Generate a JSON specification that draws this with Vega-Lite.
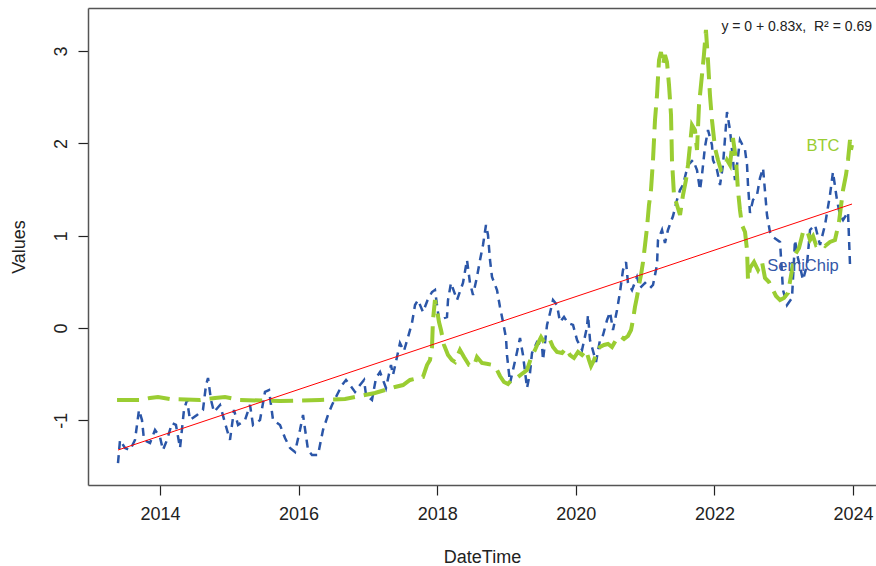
{
  "$schema": "https://vega.github.io/schema/vega-lite/v6.json",
  "autosize": {"type": "none"},
  "padding": {"left": 88, "top": 8, "right": 0, "bottom": 81},
  "width": 788,
  "height": 477,
  "background": "white",
  "config": {"view": {"stroke": null}, "font": "Liberation Sans"},
  "datasets": {
    "semi": [
      {"t": 2013.394, "v": -1.463}, {"t": 2013.423, "v": -1.213}, {"t": 2013.495, "v": -1.3}, {"t": 2013.567, "v": -1.322},
      {"t": 2013.639, "v": -1.213}, {"t": 2013.697, "v": -0.888}, {"t": 2013.74, "v": -0.997}, {"t": 2013.769, "v": -1.213},
      {"t": 2013.856, "v": -1.246}, {"t": 2013.928, "v": -1.105}, {"t": 2014.0, "v": -1.181}, {"t": 2014.043, "v": -1.322},
      {"t": 2014.101, "v": -1.213}, {"t": 2014.173, "v": -1.029}, {"t": 2014.23, "v": -1.05}, {"t": 2014.289, "v": -1.3},
      {"t": 2014.346, "v": -0.888}, {"t": 2014.39, "v": -0.78}, {"t": 2014.433, "v": -0.997}, {"t": 2014.534, "v": -0.943},
      {"t": 2014.62, "v": -0.888}, {"t": 2014.664, "v": -0.618}, {"t": 2014.693, "v": -0.542}, {"t": 2014.736, "v": -0.78},
      {"t": 2014.779, "v": -0.91}, {"t": 2014.866, "v": -0.834}, {"t": 2014.967, "v": -1.105}, {"t": 2015.01, "v": -1.213},
      {"t": 2015.068, "v": -0.888}, {"t": 2015.126, "v": -1.051}, {"t": 2015.227, "v": -0.997}, {"t": 2015.299, "v": -0.834},
      {"t": 2015.342, "v": -1.051}, {"t": 2015.443, "v": -0.997}, {"t": 2015.515, "v": -0.693}, {"t": 2015.573, "v": -0.672},
      {"t": 2015.631, "v": -0.997}, {"t": 2015.732, "v": -1.051}, {"t": 2015.804, "v": -1.192}, {"t": 2015.876, "v": -1.3},
      {"t": 2015.948, "v": -1.343}, {"t": 2016.02, "v": -1.105}, {"t": 2016.064, "v": -0.943}, {"t": 2016.136, "v": -1.322},
      {"t": 2016.193, "v": -1.376}, {"t": 2016.28, "v": -1.376}, {"t": 2016.352, "v": -1.105}, {"t": 2016.424, "v": -0.943},
      {"t": 2016.482, "v": -0.834}, {"t": 2016.554, "v": -0.726}, {"t": 2016.626, "v": -0.618}, {"t": 2016.684, "v": -0.563},
      {"t": 2016.742, "v": -0.618}, {"t": 2016.814, "v": -0.693}, {"t": 2016.886, "v": -0.618}, {"t": 2016.944, "v": -0.563},
      {"t": 2016.973, "v": -0.726}, {"t": 2017.059, "v": -0.78}, {"t": 2017.117, "v": -0.542}, {"t": 2017.175, "v": -0.477},
      {"t": 2017.261, "v": -0.65}, {"t": 2017.333, "v": -0.401}, {"t": 2017.362, "v": -0.509}, {"t": 2017.42, "v": -0.314},
      {"t": 2017.463, "v": -0.163}, {"t": 2017.52, "v": -0.25}, {"t": 2017.579, "v": -0.098}, {"t": 2017.636, "v": 0.054}, {"t": 2017.68, "v": 0.249},
      {"t": 2017.723, "v": 0.303}, {"t": 2017.795, "v": 0.173}, {"t": 2017.86, "v": 0.3}, {"t": 2017.925, "v": 0.39}, {"t": 2017.968, "v": 0.412},
      {"t": 2018.026, "v": 0.087}, {"t": 2018.141, "v": 0.119}, {"t": 2018.156, "v": 0.303}, {"t": 2018.199, "v": 0.488},
      {"t": 2018.286, "v": 0.303}, {"t": 2018.372, "v": 0.488}, {"t": 2018.43, "v": 0.737}, {"t": 2018.473, "v": 0.488},
      {"t": 2018.517, "v": 0.358}, {"t": 2018.574, "v": 0.553}, {"t": 2018.618, "v": 0.737}, {"t": 2018.661, "v": 0.899},
      {"t": 2018.704, "v": 1.116}, {"t": 2018.733, "v": 1.008}, {"t": 2018.762, "v": 0.737}, {"t": 2018.791, "v": 0.553},
      {"t": 2018.863, "v": 0.412}, {"t": 2018.906, "v": 0.228}, {"t": 2018.95, "v": 0.065}, {"t": 2018.993, "v": -0.108},
      {"t": 2019.007, "v": -0.293}, {"t": 2019.051, "v": -0.596}, {"t": 2019.094, "v": -0.455}, {"t": 2019.152, "v": -0.26},
      {"t": 2019.195, "v": -0.108}, {"t": 2019.238, "v": -0.293}, {"t": 2019.296, "v": -0.65}, {"t": 2019.339, "v": -0.488},
      {"t": 2019.368, "v": -0.271}, {"t": 2019.44, "v": -0.152}, {"t": 2019.512, "v": -0.184}, {"t": 2019.527, "v": -0.347},
      {"t": 2019.585, "v": 0.033}, {"t": 2019.628, "v": 0.163}, {"t": 2019.671, "v": 0.303}, {"t": 2019.729, "v": 0.249},
      {"t": 2019.772, "v": 0.065}, {"t": 2019.83, "v": 0.12}, {"t": 2019.887, "v": 0.054}, {"t": 2019.96, "v": 0.033}, {"t": 2020.018, "v": -0.13},
      {"t": 2020.09, "v": -0.238}, {"t": 2020.162, "v": 0.011}, {"t": 2020.176, "v": 0.141}, {"t": 2020.205, "v": -0.13},
      {"t": 2020.292, "v": -0.368}, {"t": 2020.349, "v": -0.13}, {"t": 2020.393, "v": -0.076}, {"t": 2020.451, "v": 0.087},
      {"t": 2020.494, "v": 0.173}, {"t": 2020.537, "v": -0.022}, {"t": 2020.595, "v": 0.195}, {"t": 2020.638, "v": 0.39},
      {"t": 2020.681, "v": 0.628}, {"t": 2020.725, "v": 0.715}, {"t": 2020.753, "v": 0.488}, {"t": 2020.811, "v": 0.412},
      {"t": 2020.883, "v": 0.553}, {"t": 2020.927, "v": 0.433}, {"t": 2020.999, "v": 0.488}, {"t": 2021.071, "v": 0.433},
      {"t": 2021.114, "v": 0.466}, {"t": 2021.172, "v": 0.683}, {"t": 2021.186, "v": 0.953}, {"t": 2021.244, "v": 1.062},
      {"t": 2021.287, "v": 0.921}, {"t": 2021.33, "v": 1.062}, {"t": 2021.403, "v": 1.213}, {"t": 2021.46, "v": 1.387},
      {"t": 2021.504, "v": 1.495}, {"t": 2021.547, "v": 1.549}, {"t": 2021.619, "v": 1.766}, {"t": 2021.691, "v": 1.82},
      {"t": 2021.749, "v": 1.712}, {"t": 2021.792, "v": 1.495}, {"t": 2021.821, "v": 1.658}, {"t": 2021.864, "v": 1.961},
      {"t": 2021.908, "v": 2.145}, {"t": 2021.965, "v": 1.983}, {"t": 2021.98, "v": 1.82}, {"t": 2022.038, "v": 1.712},
      {"t": 2022.081, "v": 1.549}, {"t": 2022.124, "v": 1.766}, {"t": 2022.182, "v": 2.34}, {"t": 2022.225, "v": 2.145},
      {"t": 2022.254, "v": 1.929}, {"t": 2022.297, "v": 1.603}, {"t": 2022.326, "v": 1.766}, {"t": 2022.369, "v": 2.037},
      {"t": 2022.442, "v": 1.929}, {"t": 2022.471, "v": 1.766}, {"t": 2022.485, "v": 1.549}, {"t": 2022.514, "v": 1.246},
      {"t": 2022.557, "v": 1.387}, {"t": 2022.615, "v": 1.441}, {"t": 2022.658, "v": 1.625}, {"t": 2022.702, "v": 1.733},
      {"t": 2022.759, "v": 1.224}, {"t": 2022.802, "v": 1.04}, {"t": 2022.846, "v": 0.986}, {"t": 2022.947, "v": 0.932},
      {"t": 2022.99, "v": 0.412}, {"t": 2023.048, "v": 0.249}, {"t": 2023.12, "v": 0.325}, {"t": 2023.163, "v": 0.953},
      {"t": 2023.206, "v": 0.758}, {"t": 2023.279, "v": 0.52}, {"t": 2023.336, "v": 0.683}, {"t": 2023.38, "v": 1.062},
      {"t": 2023.452, "v": 1.116}, {"t": 2023.524, "v": 0.899}, {"t": 2023.596, "v": 1.116}, {"t": 2023.668, "v": 1.441},
      {"t": 2023.711, "v": 1.69}, {"t": 2023.769, "v": 1.387}, {"t": 2023.812, "v": 1.224}, {"t": 2023.856, "v": 1.17},
      {"t": 2023.928, "v": 1.257}, {"t": 2023.957, "v": 0.683}, {"t": 2023.986, "v": 0.65}
    ],
    "btc": [
      {"t": 2013.38, "v": -0.78}, {"t": 2013.711, "v": -0.78}, {"t": 2013.856, "v": -0.758}, {"t": 2013.971, "v": -0.748},
      {"t": 2014.144, "v": -0.769}, {"t": 2014.577, "v": -0.78}, {"t": 2014.794, "v": -0.758}, {"t": 2014.938, "v": -0.748},
      {"t": 2015.154, "v": -0.78}, {"t": 2015.732, "v": -0.791}, {"t": 2016.309, "v": -0.78}, {"t": 2016.67, "v": -0.769},
      {"t": 2016.814, "v": -0.748}, {"t": 2016.958, "v": -0.726}, {"t": 2017.102, "v": -0.704}, {"t": 2017.247, "v": -0.672},
      {"t": 2017.391, "v": -0.639}, {"t": 2017.507, "v": -0.618}, {"t": 2017.608, "v": -0.563}, {"t": 2017.723, "v": -0.542},
      {"t": 2017.795, "v": -0.531}, {"t": 2017.853, "v": -0.401}, {"t": 2017.896, "v": -0.347}, {"t": 2017.925, "v": -0.206},
      {"t": 2017.939, "v": 0.087}, {"t": 2017.968, "v": 0.303}, {"t": 2017.997, "v": 0.195}, {"t": 2018.026, "v": 0.065},
      {"t": 2018.055, "v": -0.022}, {"t": 2018.098, "v": -0.184}, {"t": 2018.156, "v": -0.293}, {"t": 2018.213, "v": -0.347},
      {"t": 2018.257, "v": -0.368}, {"t": 2018.329, "v": -0.238}, {"t": 2018.387, "v": -0.314}, {"t": 2018.459, "v": -0.401},
      {"t": 2018.531, "v": -0.412}, {"t": 2018.574, "v": -0.314}, {"t": 2018.646, "v": -0.379}, {"t": 2018.733, "v": -0.39},
      {"t": 2018.805, "v": -0.401}, {"t": 2018.863, "v": -0.455}, {"t": 2018.906, "v": -0.52}, {"t": 2018.964, "v": -0.585},
      {"t": 2019.022, "v": -0.607}, {"t": 2019.094, "v": -0.542}, {"t": 2019.166, "v": -0.531}, {"t": 2019.238, "v": -0.488},
      {"t": 2019.296, "v": -0.455}, {"t": 2019.354, "v": -0.325}, {"t": 2019.411, "v": -0.238}, {"t": 2019.455, "v": -0.163},
      {"t": 2019.498, "v": -0.098}, {"t": 2019.541, "v": -0.152}, {"t": 2019.585, "v": -0.173}, {"t": 2019.628, "v": -0.13},
      {"t": 2019.671, "v": -0.206}, {"t": 2019.729, "v": -0.26}, {"t": 2019.801, "v": -0.271}, {"t": 2019.859, "v": -0.217},
      {"t": 2019.916, "v": -0.293}, {"t": 2019.974, "v": -0.325}, {"t": 2020.032, "v": -0.26}, {"t": 2020.09, "v": -0.293},
      {"t": 2020.147, "v": -0.238}, {"t": 2020.191, "v": -0.347}, {"t": 2020.22, "v": -0.412}, {"t": 2020.263, "v": -0.347},
      {"t": 2020.306, "v": -0.26}, {"t": 2020.349, "v": -0.206}, {"t": 2020.407, "v": -0.184}, {"t": 2020.465, "v": -0.173},
      {"t": 2020.522, "v": -0.206}, {"t": 2020.58, "v": -0.13}, {"t": 2020.638, "v": -0.087}, {"t": 2020.696, "v": -0.119},
      {"t": 2020.753, "v": -0.087}, {"t": 2020.797, "v": -0.022}, {"t": 2020.825, "v": 0.087}, {"t": 2020.854, "v": 0.228},
      {"t": 2020.883, "v": 0.336}, {"t": 2020.912, "v": 0.466}, {"t": 2020.941, "v": 0.574}, {"t": 2020.97, "v": 0.715},
      {"t": 2020.999, "v": 0.899}, {"t": 2021.027, "v": 1.083}, {"t": 2021.056, "v": 1.333}, {"t": 2021.085, "v": 1.495},
      {"t": 2021.114, "v": 1.82}, {"t": 2021.143, "v": 2.254}, {"t": 2021.172, "v": 2.524}, {"t": 2021.201, "v": 2.904},
      {"t": 2021.229, "v": 2.99}, {"t": 2021.258, "v": 2.849}, {"t": 2021.287, "v": 2.958}, {"t": 2021.316, "v": 2.882},
      {"t": 2021.345, "v": 2.633}, {"t": 2021.374, "v": 2.308}, {"t": 2021.388, "v": 1.82}, {"t": 2021.417, "v": 1.441},
      {"t": 2021.46, "v": 1.333}, {"t": 2021.504, "v": 1.224}, {"t": 2021.547, "v": 1.441}, {"t": 2021.59, "v": 1.603},
      {"t": 2021.619, "v": 1.766}, {"t": 2021.648, "v": 1.983}, {"t": 2021.677, "v": 2.199}, {"t": 2021.72, "v": 2.145},
      {"t": 2021.749, "v": 1.929}, {"t": 2021.778, "v": 2.416}, {"t": 2021.821, "v": 2.741}, {"t": 2021.849, "v": 2.958},
      {"t": 2021.878, "v": 3.229}, {"t": 2021.907, "v": 2.904}, {"t": 2021.936, "v": 2.524}, {"t": 2021.965, "v": 2.254},
      {"t": 2022.009, "v": 1.95}, {"t": 2022.052, "v": 1.82}, {"t": 2022.095, "v": 1.712}, {"t": 2022.139, "v": 1.733},
      {"t": 2022.182, "v": 1.82}, {"t": 2022.225, "v": 1.766}, {"t": 2022.268, "v": 2.059}, {"t": 2022.312, "v": 1.82},
      {"t": 2022.34, "v": 1.495}, {"t": 2022.369, "v": 1.278}, {"t": 2022.398, "v": 1.116}, {"t": 2022.442, "v": 1.04},
      {"t": 2022.471, "v": 0.845}, {"t": 2022.485, "v": 0.52}, {"t": 2022.514, "v": 0.65}, {"t": 2022.572, "v": 0.715},
      {"t": 2022.629, "v": 0.628}, {"t": 2022.687, "v": 0.715}, {"t": 2022.73, "v": 0.542}, {"t": 2022.788, "v": 0.498},
      {"t": 2022.846, "v": 0.412}, {"t": 2022.889, "v": 0.347}, {"t": 2022.947, "v": 0.303}, {"t": 2023.004, "v": 0.325},
      {"t": 2023.062, "v": 0.379}, {"t": 2023.12, "v": 0.628}, {"t": 2023.163, "v": 0.791}, {"t": 2023.221, "v": 0.867},
      {"t": 2023.279, "v": 1.04}, {"t": 2023.336, "v": 1.062}, {"t": 2023.38, "v": 0.953}, {"t": 2023.423, "v": 0.997},
      {"t": 2023.466, "v": 0.899}, {"t": 2023.524, "v": 0.921}, {"t": 2023.596, "v": 0.888}, {"t": 2023.668, "v": 0.932},
      {"t": 2023.74, "v": 0.953}, {"t": 2023.798, "v": 1.148}, {"t": 2023.856, "v": 1.495}, {"t": 2023.899, "v": 1.658},
      {"t": 2023.928, "v": 1.82}, {"t": 2023.957, "v": 2.037}, {"t": 2023.971, "v": 1.929}, {"t": 2023.986, "v": 1.983}
    ],
    "fit": [{"t": 2013.394, "v": -1.322}, {"t": 2023.986, "v": 1.343}],
    "labels": [
      {"t": 2023.567, "v": 1.972, "label": "BTC", "series": "BTC"},
      {"t": 2023.279, "v": 0.672, "label": "SemiChip", "series": "SemiChip"}
    ],
    "note": [{"t": 2024.274, "v": 3.261, "label": "y = 0 + 0.83x,\u00a0 R² = 0.69"}]
  },
  "resolve": {"axis": {"x": "independent"}},
  "layer": [
    {
      "data": {"name": "semi"},
      "mark": {"type": "line", "color": "#2B56A8", "strokeWidth": 2.5, "strokeDash": [8, 6], "clip": true},
      "encoding": {
        "x": {
          "field": "t", "type": "quantitative",
          "scale": {"domain": [2012.961, 2024.332], "nice": false, "zero": false},
          "axis": {
            "orient": "bottom", "title": "DateTime", "values": [2014, 2016, 2018, 2020, 2022, 2024],
            "format": "d", "grid": false, "domain": true, "domainColor": "#555555", "domainWidth": 1.5,
            "tickColor": "#222222", "tickSize": 10, "tickWidth": 1.2,
            "labelFont": "Liberation Sans", "labelFontSize": 18, "labelColor": "#222222", "labelPadding": 10,
            "labelFlush": false, "labelOverlap": false,
            "titleFont": "Liberation Sans", "titleFontSize": 18, "titleFontWeight": "normal", "titleColor": "#222222", "titlePadding": 25
          }
        },
        "y": {
          "field": "v", "type": "quantitative",
          "scale": {"domain": [-1.701, 3.467], "nice": false, "zero": false},
          "axis": {
            "title": "Values", "values": [-1, 0, 1, 2, 3], "labelExpr": "'' + datum.value",
            "grid": false, "domain": true, "domainColor": "#555555", "domainWidth": 1.5,
            "tickColor": "#222222", "tickSize": 10, "tickWidth": 1.2,
            "labelFont": "Liberation Sans", "labelFontSize": 18, "labelColor": "#222222", "labelPadding": 12,
            "labelAngle": -90, "labelAlign": "center", "labelBaseline": "alphabetic",
            "labelFlush": false, "labelOverlap": false,
            "titleFont": "Liberation Sans", "titleFontSize": 18, "titleFontWeight": "normal", "titleColor": "#222222", "titlePadding": 24
          }
        }
      }
    },
    {
      "data": {"name": "btc"},
      "mark": {"type": "line", "color": "#9ACD32", "strokeWidth": 4, "strokeDash": [22, 9], "clip": true},
      "encoding": {
        "x": {"field": "t", "type": "quantitative", "axis": null},
        "y": {"field": "v", "type": "quantitative"}
      }
    },
    {
      "data": {"name": "fit"},
      "mark": {"type": "line", "color": "#FF0000", "strokeWidth": 1, "clip": true},
      "encoding": {
        "x": {
          "field": "t", "type": "quantitative",
          "axis": {"orient": "top", "title": null, "labels": false, "ticks": false, "grid": false, "domain": true, "domainColor": "#555555", "domainWidth": 1.5}
        },
        "y": {"field": "v", "type": "quantitative"}
      }
    },
    {
      "data": {"name": "labels"},
      "mark": {"type": "text", "font": "Liberation Sans", "fontSize": 16.5, "align": "center", "baseline": "middle"},
      "encoding": {
        "x": {"field": "t", "type": "quantitative", "axis": null},
        "y": {"field": "v", "type": "quantitative"},
        "text": {"field": "label"},
        "color": {"field": "series", "type": "nominal", "scale": {"domain": ["BTC", "SemiChip"], "range": ["#9ACD32", "#3558A8"]}, "legend": null}
      }
    },
    {
      "data": {"name": "note"},
      "mark": {"type": "text", "font": "Liberation Sans", "fontSize": 14, "align": "right", "baseline": "middle", "color": "#222222"},
      "encoding": {
        "x": {"field": "t", "type": "quantitative", "axis": null},
        "y": {"field": "v", "type": "quantitative"},
        "text": {"field": "label"}
      }
    }
  ]
}
